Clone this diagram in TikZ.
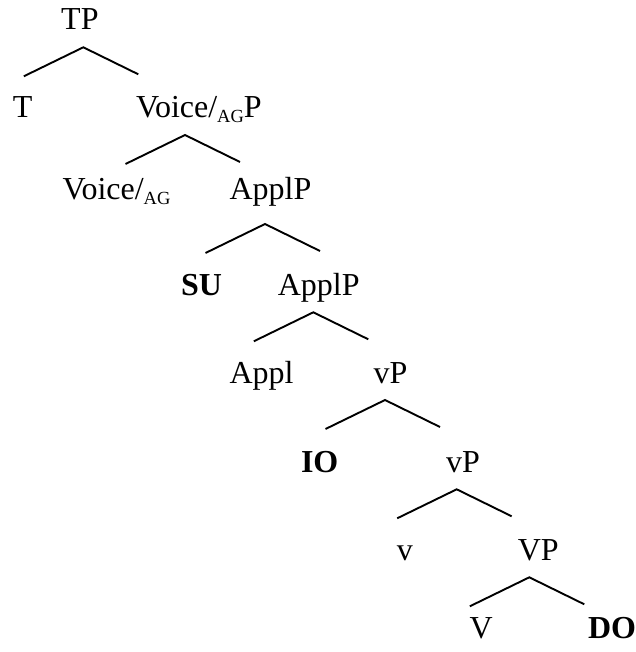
\documentclass[tikz,border=0pt]{standalone}
\usepackage{fontspec}
\setmainfont{Liberation Serif}
\usetikzlibrary{calc}
\newcommand{\agsub}{\raisebox{-5pt}{\fontsize{18.5}{18.5}\selectfont AG}}
\begin{document}
\begin{tikzpicture}[x=1pt,y=-1pt,
  lab/.style={inner sep=0pt,outer sep=0pt,anchor=base west,font=\fontsize{32}{32}\selectfont},
  branch/.style={line width=1.9pt,black}]
\useasboundingbox (0,0) rectangle (635,652);
% labels
\node[lab] (TP) at (61.2,30) {TP};
\node[lab] (T) at (12.8,118) {T};
\node[lab] (VoiceAGP) at (136,118) {Voice/\agsub P};
\node[lab] (VoiceAG) at (62.5,200) {Voice/\agsub};
\node[lab] (ApplP1) at (229.5,200) {ApplP};
\node[lab] (SU) at (181,295) {\textbf{SU}};
\node[lab] (ApplP2) at (277.8,295) {ApplP};
\node[lab] (Appl) at (229.5,383) {Appl};
\node[lab] (vP1) at (373.5,383) {vP};
\node[lab] (IO) at (301,472) {\textbf{IO}};
\node[lab] (vP2) at (446.2,472) {vP};
\node[lab] (v) at (396.8,560) {v};
\node[lab] (VP) at (517.8,560) {VP};
\node[lab] (V) at (469.5,638) {V};
\node[lab] (DO) at (588,638) {\textbf{DO}};
% apex coordinates
\coordinate (a1) at (83.3,47.3);
\coordinate (a2) at (185,135);
\coordinate (a3) at (265,224);
\coordinate (a4) at (313.3,312.3);
\coordinate (a5) at (385,400);
\coordinate (a6) at (456.7,489.3);
\coordinate (a7) at (529.3,577.3);
\foreach \a in {a1,a2,a3,a4,a5,a6,a7}{
  \coordinate (\a l) at ($(\a)+(-59.5,29)$);
  \coordinate (\a r) at ($(\a)+(55,27)$);
  \draw[branch] (\a l) -- (\a) -- (\a r);
}
\end{tikzpicture}
\end{document}
